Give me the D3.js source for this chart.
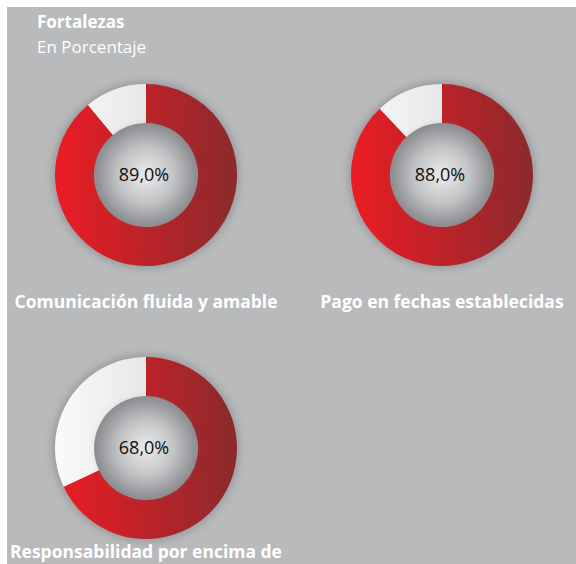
<!DOCTYPE html>
<html>
<head>
<meta charset="utf-8">
<script src="https://cdn.jsdelivr.net/npm/d3@7"></script>
<style>
  body { margin: 0; background: #fff; }
  svg { display: block; font-family: "Open Sans", "DejaVu Sans", sans-serif; }
</style>
</head>
<body>
<svg id="chart" width="576" height="564"></svg>
<script>
// data
const title = "Fortalezas";
const subtitle = "En Porcentaje";
const categories = ["Comunicación fluida y amable", "Pago en fechas establecidas", "Responsabilidad por encima de"];
const values = [89.0, 88.0, 68.0];

const svg = d3.select("#chart");
const defs = svg.append("defs");

const rOuter = 91, rInner = 52;

// gradients (user space so every slice shares the same left-to-right fade)
let rg = defs.append("linearGradient").attr("id", "redGrad").attr("gradientUnits", "userSpaceOnUse")
    .attr("x1", -rOuter).attr("x2", rOuter).attr("y1", 0).attr("y2", 0);
rg.append("stop").attr("offset", "0%").attr("stop-color", "#ec1c24");
rg.append("stop").attr("offset", "100%").attr("stop-color", "#8a2a2d");
let wg = defs.append("linearGradient").attr("id", "whiteGrad").attr("gradientUnits", "userSpaceOnUse")
    .attr("x1", -rOuter).attr("x2", rOuter).attr("y1", 0).attr("y2", 0);
wg.append("stop").attr("offset", "0%").attr("stop-color", "#fafafa");
wg.append("stop").attr("offset", "100%").attr("stop-color", "#d4d5d7");
let cg = defs.append("radialGradient").attr("id", "centerGrad").attr("cx", "50%").attr("cy", "50%").attr("r", "50%");
cg.append("stop").attr("offset", "0%").attr("stop-color", "#ececed");
cg.append("stop").attr("offset", "55%").attr("stop-color", "#c2c3c5");
cg.append("stop").attr("offset", "100%").attr("stop-color", "#8c8d90");
let blur = defs.append("filter").attr("id", "shadow").attr("x", "-30%").attr("y", "-30%").attr("width", "160%").attr("height", "160%");
blur.append("feGaussianBlur").attr("stdDeviation", 4);

// panel
svg.append("rect").attr("x", 7).attr("y", 7).attr("width", 569).attr("height", 557).attr("fill", "#b9babc");

svg.append("text").attr("x", 37).attr("y", 28).attr("fill", "#fff")
    .attr("font-size", 17).attr("font-weight", "bold").text(title);
svg.append("text").attr("x", 37).attr("y", 53).attr("fill", "#fff")
    .attr("font-size", 17).text(subtitle);

// layout
const xCol = d3.scaleOrdinal().domain([0, 1]).range([146, 442]);
const yRow = d3.scaleOrdinal().domain([0, 1]).range([175, 448]);
const labelY = d3.scaleOrdinal().domain([0, 1]).range([308, 558]);

const pie = d3.pie().sort(null);
const arc = d3.arc().innerRadius(rInner).outerRadius(rOuter);

const g = svg.selectAll("g.donut").data(values).join("g").attr("class", "donut")
    .attr("transform", (d, i) => `translate(${xCol(i % 2)},${yRow(Math.floor(i / 2))})`);

g.append("circle").attr("r", rOuter + 2).attr("fill", "#6f7072").attr("opacity", 0.5)
    .attr("filter", "url(#shadow)");

g.selectAll("path").data(d => pie([d, 100 - d])).join("path")
    .attr("d", arc)
    .attr("fill", (d, i) => i === 0 ? "url(#redGrad)" : "url(#whiteGrad)");

g.append("circle").attr("r", rInner - 4).attr("fill", "#777").attr("opacity", 0.5).attr("filter", "url(#shadow)");
g.append("circle").attr("r", rInner - 1).attr("fill", "url(#centerGrad)");

g.append("text").attr("text-anchor", "middle").attr("x", -2).attr("y", 6)
    .attr("font-size", 18).attr("fill", "#111")
    .text(d => d3.format(".1f")(d).replace(".", ",") + "%");

svg.selectAll("text.label").data(categories).join("text").attr("class", "label")
    .attr("x", (d, i) => xCol(i % 2)).attr("y", (d, i) => labelY(Math.floor(i / 2)))
    .attr("text-anchor", "middle").attr("fill", "#fff")
    .attr("font-size", 17.5).attr("font-weight", "bold")
    .text(d => d);
</script>
</body>
</html>
